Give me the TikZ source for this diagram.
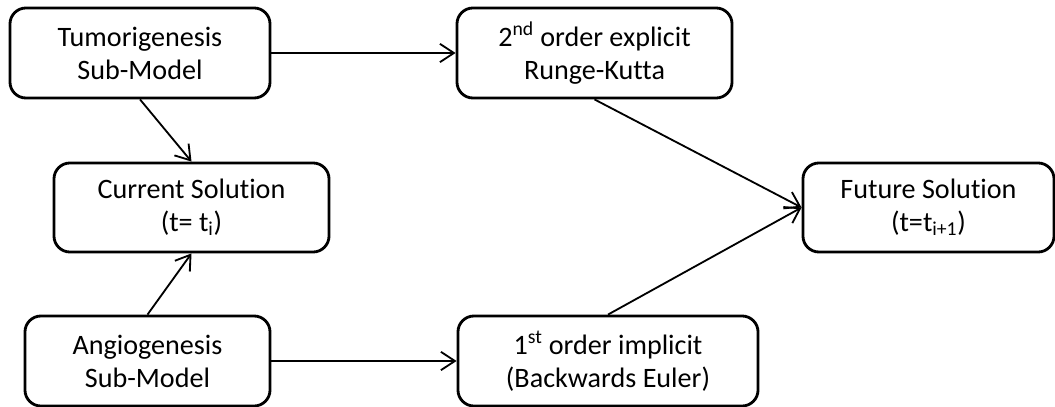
\documentclass[tikz,border=0pt]{standalone}
\usepackage{fontspec}
\setmainfont{Carlito}[Ligatures=CommonOff]
\usetikzlibrary{arrows.meta, positioning}

\begin{document}
\begin{tikzpicture}[x=0.025cm, y=-0.025cm,
    block/.style={draw, line width=2pt, rounded corners=0.4cm, align=center, inner sep=0pt, minimum height=2.25cm, font=\fontsize{20}{23.5}\selectfont},
    link/.style={line width=1.3pt, -{Straight Barb[length=3.5mm, width=4.6mm]}}]
                \useasboundingbox (0,0) rectangle (1055,407);
                % sub-models
                \node [block, minimum width=6.5cm] (tumor) at (140,53) {Tumorigenesis\\Sub-Model};
                \node [block, minimum width=6.125cm] (angio) at (147.5,361) {Angiogenesis\\Sub-Model};
                \node [block, minimum width=6.875cm, minimum height=2.225cm] (current) at (191.5,207.5) {Current Solution\\(t= t\textsubscript{i})};
                % schemes
                \node [block, minimum width=6.875cm] (explicit) at (594.5,53) {2\textsuperscript{nd} order explicit\\Runge-Kutta};
                \node [block, minimum width=7.5cm] (implicit) at (608,361) {1\textsuperscript{st} order implicit\\(Backwards Euler)};
                \node [block, minimum width=6.275cm, minimum height=2.225cm] (future) at (928.5,207.5) {Future Solution\\(t=t\textsubscript{i+1})};
                \draw [link] (tumor) -- (explicit);
                \draw [link] (angio) -- (implicit);
                \draw [link] (tumor.south) -- (current.north);
                \draw [link] (angio.north) -- (current.south);
                \draw [link] (explicit.south) -- (future.west);
                \draw [link] (implicit.north) -- (future.west);
            \end{tikzpicture}
\end{document}
